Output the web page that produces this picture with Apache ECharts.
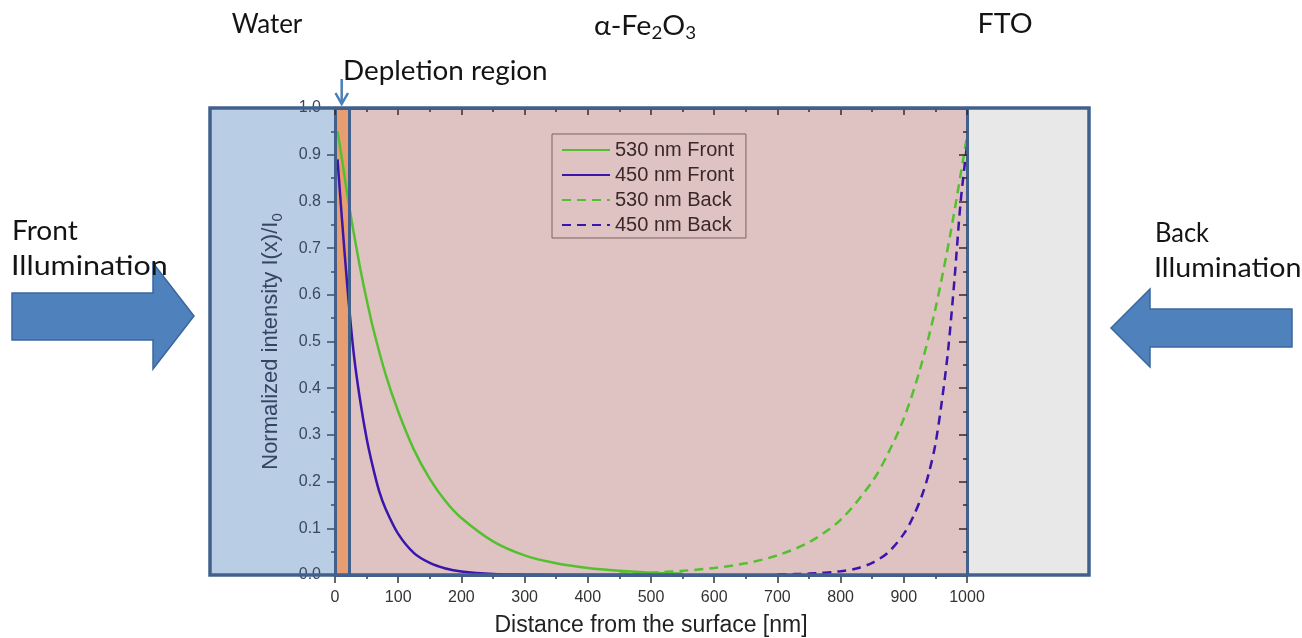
<!DOCTYPE html>
<html><head><meta charset="utf-8">
<script src="https://cdn.jsdelivr.net/npm/echarts@6/dist/echarts.min.js"></script>
<style>html,body{margin:0;padding:0;background:#fff}#c{width:1302px;height:638px}</style>
</head><body><div id="c"></div>
<script>
// ---- data ----
const seriesNames = ['530 nm Front', '450 nm Front', '530 nm Back', '450 nm Back'];

const front530X = [4, 10, 20, 30, 40, 50, 60, 80, 100, 125, 150, 175, 200, 250, 300, 350, 400, 450, 500, 550];
const front530Y = [0.95, 0.90, 0.81, 0.73, 0.656, 0.59, 0.53, 0.43, 0.35, 0.268, 0.206, 0.158, 0.122, 0.072, 0.042, 0.025, 0.015, 0.009, 0.005, 0.003];

const front450X = [4, 10, 20, 30, 40, 50, 60, 70, 80, 100, 125, 150, 175, 200, 250, 300, 350, 400, 450, 500];
const front450Y = [0.89, 0.78, 0.61, 0.47, 0.372, 0.293, 0.231, 0.179, 0.142, 0.088, 0.047, 0.026, 0.014, 0.0076, 0.0022, 0.0007, 0.0002, 0.0001, 0, 0];

const back530X = [450, 500, 550, 600, 650, 700, 750, 800, 850, 875, 900, 925, 950, 975, 1000];
const back530Y = [0.003, 0.005, 0.009, 0.015, 0.025, 0.042, 0.07, 0.118, 0.2, 0.26, 0.335, 0.437, 0.57, 0.74, 0.94];

const back450X = [700, 750, 800, 825, 850, 875, 900, 915, 930, 940, 950, 960, 970, 980, 990, 1000];
const back450Y = [0.001, 0.003, 0.008, 0.014, 0.026, 0.048, 0.088, 0.125, 0.175, 0.22, 0.28, 0.37, 0.48, 0.63, 0.8, 0.92];

const depletionEdge = 23;   // nm
const filmEnd = 1000;       // nm
const regionLabels = ['Water', 'α-Fe{s|2}O{s|3}', 'FTO'];

// ---- chart ----
const GREEN = '#55c02f';
const PURPLE = '#3a16ab';
const FRAME = '#41618c';
const pair = (xs, ys) => xs.map((x, i) => [x, ys[i]]);

const chart = echarts.init(document.getElementById('c'), null, { renderer: 'canvas' });

const lineSeries = (name, xs, ys, color, dashed) => ({
  name, type: 'line', data: pair(xs, ys), smooth: 0.3,
  symbol: 'none', showSymbol: false, z: 3,
  lineStyle: { color, width: 2.5, type: dashed ? [9, 6] : 'solid' },
  itemStyle: { color }
});

const titleFont = 'Lato';
const TS = 26;
const txt = (text, x, y, align, sx) => ({
  type: 'text', x, y, z: 60, scaleX: sx || 1,
  style: { text, fontSize: TS, fontFamily: titleFont, fill: '#141414', align: align || 'left', verticalAlign: 'middle' }
});

const option = {
  animation: false,
  backgroundColor: '#ffffff',
  grid: { left: 335, right: 335, top: 108, bottom: 63, containLabel: false, outerBoundsMode: 'none' },
  legend: {
    data: seriesNames, orient: 'vertical', left: 552, top: 134,
    padding: [6, 12, 3, 9], itemGap: 5, itemWidth: 48, itemHeight: 14,
    borderColor: '#7d6262', borderWidth: 1, backgroundColor: 'transparent',
    itemStyle: { opacity: 0, borderWidth: 0 },
    textStyle: { fontSize: 20, color: '#3a2828', fontFamily: 'Liberation Sans', lineHeight: 20 }
  },
  xAxis: [
    {
      type: 'value', min: 0, max: 1000, interval: 100, position: 'bottom', z: 4,
      axisLine: { show: true, onZero: false, lineStyle: { color: FRAME, width: 3 } },
      axisTick: { show: true, length: 8, lineStyle: { color: '#333', width: 1.5 } },
      minorTick: { show: true, splitNumber: 2, length: 4, lineStyle: { color: '#333', width: 1.5 } },
      splitLine: { show: false },
      axisLabel: { color: '#333', fontSize: 16, fontFamily: 'Liberation Sans', margin: 15, formatter: v => String(v) },
      name: 'Distance from the surface [nm]', nameLocation: 'middle', nameGap: 39,
      nameTextStyle: { color: '#222', fontSize: 23, fontFamily: 'Liberation Sans' }
    },
    {
      type: 'value', min: 0, max: 1000, interval: 100, position: 'top', z: 4,
      axisLine: { show: true, onZero: false, lineStyle: { color: FRAME, width: 3 } },
      axisTick: { show: true, inside: true, length: 7, lineStyle: { color: '#3a2a2a', width: 1.5 } },
      minorTick: { show: true, splitNumber: 2, length: 4, lineStyle: { color: '#3a2a2a', width: 1.5 } },
      splitLine: { show: false }, axisLabel: { show: false }
    }
  ],
  yAxis: [
    {
      type: 'value', min: 0, max: 1, interval: 0.1, position: 'left', z: 4,
      axisLine: { show: true, onZero: false, lineStyle: { color: FRAME, width: 3 } },
      axisTick: { show: true, length: 8, lineStyle: { color: '#3e4e6e', width: 1.5 } },
      minorTick: { show: true, splitNumber: 2, length: 4, lineStyle: { color: '#3e4e6e', width: 1.5 } },
      splitLine: { show: false },
      axisLabel: { color: '#3a4762', fontSize: 16, fontFamily: 'Liberation Sans', margin: 14, formatter: v => v.toFixed(1) },
      name: 'Normalized intensity I(x)/I{s|0}', nameLocation: 'middle', nameGap: 50, nameRotate: 90,
      nameTextStyle: {
        color: '#364563', fontSize: 22, fontFamily: 'Liberation Sans', lineHeight: 28,
        rich: { s: { fontSize: 15, lineHeight: 14, verticalAlign: 'bottom', color: '#364563', fontFamily: 'Liberation Sans' } }
      }
    },
    {
      type: 'value', min: 0, max: 1, interval: 0.1, position: 'right', z: 4,
      axisLine: { show: true, onZero: false, lineStyle: { color: FRAME, width: 3 } },
      axisTick: { show: true, inside: true, length: 8, lineStyle: { color: '#3a2a2a', width: 1.5 } },
      minorTick: { show: true, splitNumber: 2, length: 4, lineStyle: { color: '#3a2a2a', width: 1.5 } },
      splitLine: { show: false }, axisLabel: { show: false }
    }
  ],
  series: [
    {
      name: '_film', type: 'line', data: [], silent: true, z: 1,
      markArea: { silent: true, itemStyle: { color: '#dfc2c2' }, data: [[{ xAxis: 0 }, { xAxis: filmEnd }]] }
    },
    lineSeries(seriesNames[0], front530X, front530Y, GREEN, false),
    lineSeries(seriesNames[1], front450X, front450Y, PURPLE, false),
    lineSeries(seriesNames[2], back530X, back530Y, GREEN, true),
    lineSeries(seriesNames[3], back450X, back450Y, PURPLE, true),
    {
      name: '_depletion', type: 'line', data: [], silent: true, z: 5,
      markArea: { silent: true, itemStyle: { color: '#e8955f', opacity: 0.82 }, data: [[{ xAxis: 0 }, { xAxis: depletionEdge }]] },
      markLine: {
        silent: true, symbol: 'none', label: { show: false },
        lineStyle: { color: FRAME, width: 3, type: 'solid' },
        data: [{ xAxis: depletionEdge }]
      }
    }
  ],
  graphic: [
    { type: 'rect', z: 0, shape: { x: 210, y: 108, width: 125, height: 467 }, style: { fill: '#b9cde4' } },
    { type: 'rect', z: 0, shape: { x: 967, y: 108, width: 122, height: 467 }, style: { fill: '#e8e8e8' } },
    { type: 'rect', z: 50, shape: { x: 210, y: 108, width: 879, height: 467 }, style: { fill: 'none', stroke: FRAME, lineWidth: 3.5 } },
    // illumination arrows
    { type: 'polygon', z: 10, shape: { points: [[12, 293], [153, 293], [153, 263], [194, 316], [153, 369], [153, 340], [12, 340]] },
      style: { fill: '#4f81bd', stroke: '#3a679e', lineWidth: 1.5 } },
    { type: 'polygon', z: 10, shape: { points: [[1111, 328], [1150, 289], [1150, 309], [1292, 309], [1292, 347], [1150, 347], [1150, 367]] },
      style: { fill: '#4f81bd', stroke: '#3a679e', lineWidth: 1.5 } },
    // depletion pointer
    { type: 'polyline', z: 60, shape: { points: [[341.7, 79], [341.7, 104]] }, style: { stroke: '#4a7ebb', lineWidth: 2.5, fill: 'none' } },
    { type: 'polyline', z: 60, shape: { points: [[335.5, 93], [341.7, 104], [348, 93]] }, style: { stroke: '#4a7ebb', lineWidth: 2.5, fill: 'none' } },
    txt(regionLabels[0], 267, 25, 'center', 1.0),
    {
      type: 'text', x: 645, y: 27, z: 60, scaleX: 1.1,
      style: {
        text: regionLabels[1], fontSize: TS, fontFamily: titleFont, fill: '#141414', align: 'center', verticalAlign: 'middle', lineHeight: 30,
        rich: { s: { fontSize: 17, lineHeight: 14, verticalAlign: 'bottom', fontFamily: titleFont, fill: '#141414' } }
      }
    },
    txt(regionLabels[2], 1005, 25, 'center', 1.1),
    txt('Depletion region', 343, 72, 'left', 1.07),
    txt('Front', 12, 232, 'left', 1.08),
    txt('Illumination', 11, 267, 'left', 1.17),
    txt('Back', 1155, 234, 'left', 0.98),
    txt('Illumination', 1154, 269, 'left', 1.1)
  ]
};
chart.setOption(option);
</script>
</body></html>
